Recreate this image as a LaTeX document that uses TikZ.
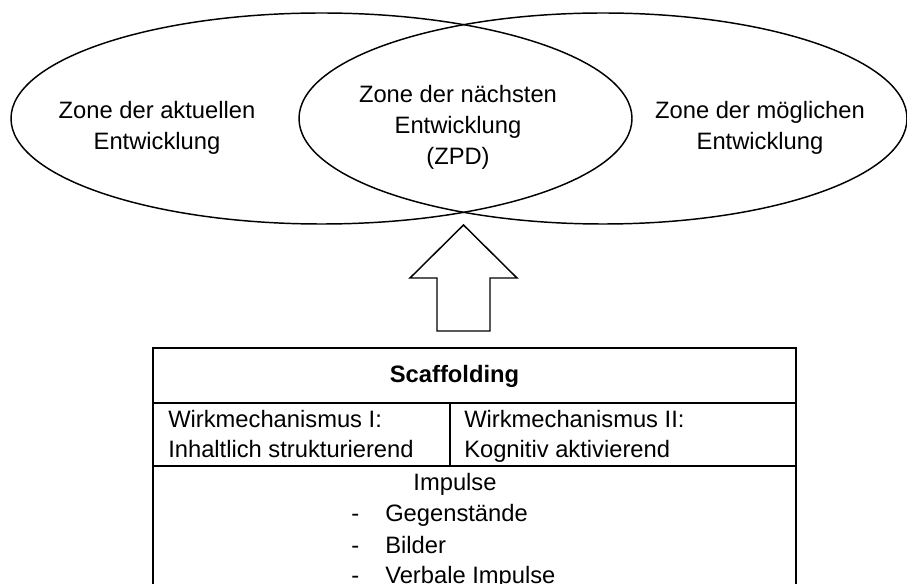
\documentclass[tikz,border=0pt]{standalone}
\usepackage{fontspec}
\setmainfont{Liberation Sans}
\usetikzlibrary{shapes.geometric}
\begin{document}
\begin{tikzpicture}[x=0.75pt,y=-0.75pt,
  zone/.style={draw, ellipse, line width=1.1pt, inner sep=0pt},
  txt/.style={inner sep=0pt, anchor=base, font=\fontsize{17.8}{23}\selectfont},
  ltxt/.style={txt, anchor=base west},
  tline/.style={line width=1.7pt},
  blockarrow/.style={draw, line width=1.1pt, line join=miter, fill=white}]
\useasboundingbox (0,0) rectangle (907,584);
% ellipses
\node[zone, minimum width=465.75pt, minimum height=158.25pt] (left) at (321.5,118.5) {};
\node[zone, minimum width=456pt, minimum height=158.25pt] (right) at (603,118.5) {};
% ellipse texts
\node[txt] (l1) at (157,119) {Zone der aktuellen};
\node[txt] (l2) at (157,150) {Entwicklung};
\node[txt] (c1) at (458,103) {Zone der nächsten};
\node[txt] (c2) at (458,134) {Entwicklung};
\node[txt] (c3) at (458,165) {(ZPD)};
\node[txt] (r1) at (760,119) {Zone der möglichen};
\node[txt] (r2) at (760,150) {Entwicklung};
% block arrow
\draw[blockarrow] (463.5,225) -- (517,278) -- (490,278) -- (490,331) -- (437,331) -- (437,278) -- (410,278) -- cycle;
% table
\coordinate (tl) at (153,348);
\coordinate (tr) at (796,348);
\coordinate (bl) at (153,595);
\coordinate (br) at (796,595);
\draw[tline] (bl) -- (tl) -- (tr) -- (br);
\draw[tline] (153,403) -- (796,403);
\draw[tline] (153,466) -- (796,466);
\draw[tline] (450,403) -- (450,466);
\node[txt, font=\fontsize{17.8}{23}\selectfont\bfseries] (scaf) at (454.5,383) {Scaffolding};
\node[ltxt] (w1a) at (168,428) {Wirkmechanismus I:};
\node[ltxt] (w1b) at (168,458) {Inhaltlich strukturierend};
\node[ltxt] (w2a) at (464,428) {Wirkmechanismus II:};
\node[ltxt] (w2b) at (464,458) {Kognitiv aktivierend};
\node[txt] (imp) at (455,490) {Impulse};
\node[ltxt] (d1) at (351,522) {-};
\node[ltxt] (i1) at (385,522) {Gegenstände};
\node[ltxt] (d2) at (351,553) {-};
\node[ltxt] (i2) at (385,553) {Bilder};
\node[ltxt] (d3) at (351,583) {-};
\node[ltxt] (i3) at (385,583) {Verbale Impulse};
\end{tikzpicture}
\end{document}
